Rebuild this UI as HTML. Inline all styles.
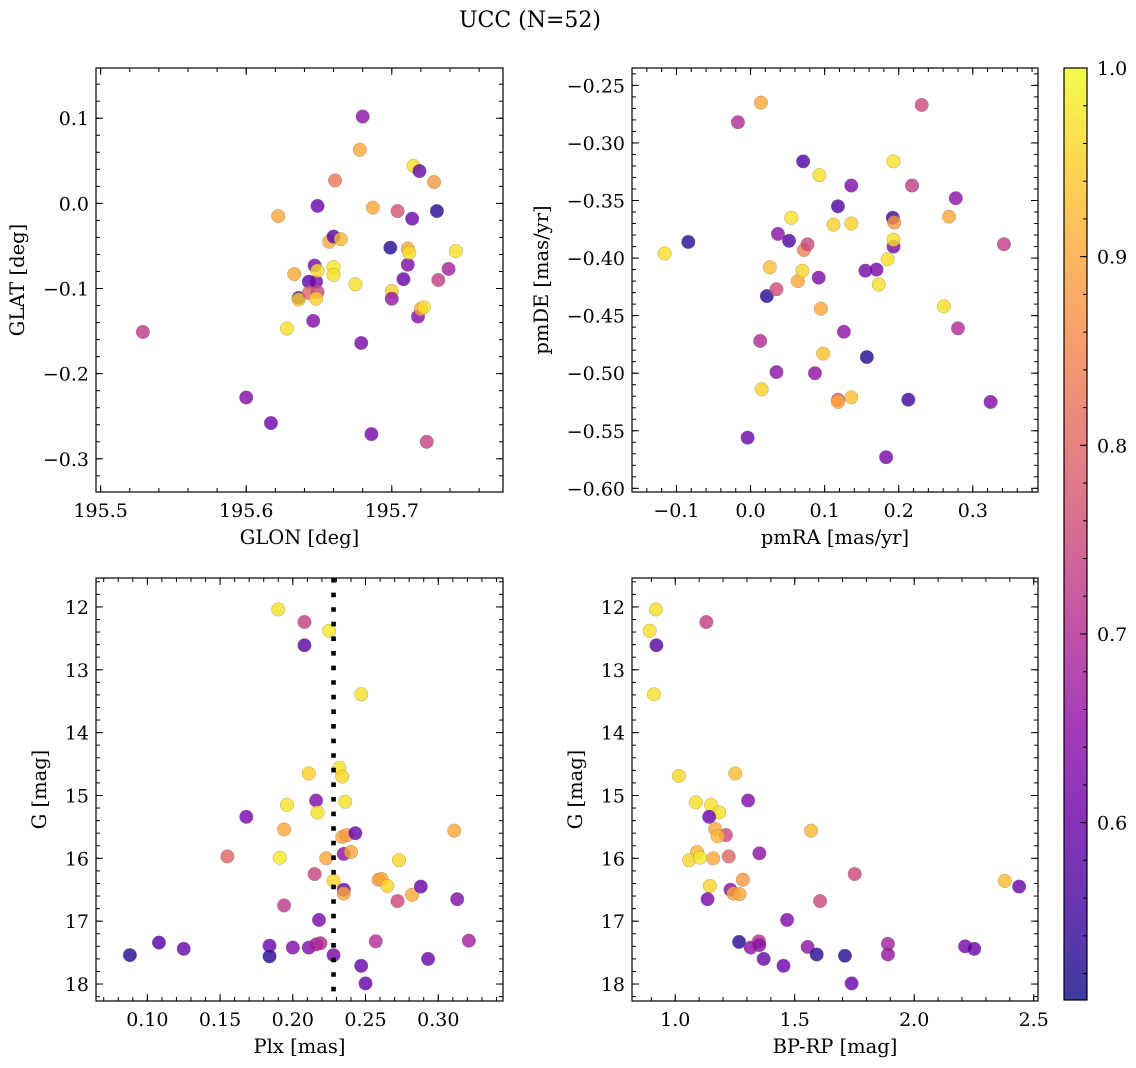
<!DOCTYPE html>
<html><head><meta charset="utf-8">
<style>
html,body{margin:0;padding:0;background:#fff;}
svg{display:block;font-family:"DejaVu Serif","Liberation Serif",serif;}
</style></head>
<body>
<svg id="fig" width="1136" height="1068" viewBox="0 0 1136 1068" xmlns="http://www.w3.org/2000/svg">
<rect x="0" y="0" width="1136" height="1068" fill="#fff"/>
<text x="530" y="27" font-size="22" text-anchor="middle">UCC (N=52)</text>
</svg>
<script>
// ---------- Panel 1: GLON vs GLAT ----------
const p1Lon=[195.529,195.600,195.617,195.622,195.628,195.633,195.636,195.636,195.643,195.643,195.646,195.647,195.648,195.649,195.649,195.648,195.649,195.657,195.660,195.660,195.660,195.661,195.665,195.675,195.678,195.679,195.680,195.686,195.687,195.699,195.700,195.700,195.704,195.708,195.711,195.711,195.712,195.714,195.715,195.719,195.718,195.720,195.722,195.724,195.729,195.731,195.732,195.739,195.744];
const p1Lat=[-0.151,-0.228,-0.258,-0.015,-0.147,-0.083,-0.111,-0.113,-0.092,-0.105,-0.138,-0.073,-0.092,-0.104,-0.079,-0.112,-0.003,-0.045,-0.039,-0.075,-0.084,0.027,-0.042,-0.095,0.063,-0.164,0.102,-0.271,-0.005,-0.052,-0.103,-0.112,-0.009,-0.089,-0.072,-0.053,-0.058,-0.018,0.044,0.038,-0.133,-0.124,-0.122,-0.280,0.025,-0.009,-0.090,-0.077,-0.056];
const p1Prob=[0.72,0.63,0.6,0.9,0.97,0.9,0.55,0.95,0.58,0.8,0.63,0.62,0.62,0.75,0.97,0.95,0.6,0.9,0.57,0.98,0.97,0.83,0.92,0.97,0.9,0.62,0.65,0.62,0.9,0.53,0.95,0.66,0.77,0.6,0.63,0.9,0.97,0.6,0.97,0.6,0.63,0.9,0.97,0.74,0.88,0.53,0.73,0.68,0.97];
const p1XTicks=[195.5,195.6,195.7];
const p1XTickLabels=["195.5","195.6","195.7"];
const p1YTicks=[0.1,0.0,-0.1,-0.2,-0.3];
const p1YTickLabels=["0.1","0.0","\u22120.1","\u22120.2","\u22120.3"];

// ---------- Panel 2: pmRA vs pmDE ----------
const p2PmRA=[-0.116,-0.084,-0.017,0.014,-0.004,0.013,0.015,0.022,0.026,0.035,0.035,0.037,0.052,0.055,0.064,0.071,0.070,0.072,0.077,0.087,0.092,0.093,0.095,0.098,0.112,0.118,0.118,0.118,0.126,0.136,0.136,0.136,0.157,0.155,0.170,0.173,0.185,0.183,0.192,0.194,0.193,0.193,0.193,0.213,0.218,0.231,0.261,0.268,0.277,0.280,0.324,0.342];
const p2PmDE=[-0.396,-0.386,-0.282,-0.265,-0.556,-0.472,-0.514,-0.433,-0.408,-0.427,-0.499,-0.379,-0.385,-0.365,-0.420,-0.316,-0.411,-0.393,-0.388,-0.500,-0.417,-0.328,-0.444,-0.483,-0.371,-0.355,-0.523,-0.525,-0.464,-0.521,-0.337,-0.370,-0.486,-0.411,-0.410,-0.423,-0.401,-0.573,-0.365,-0.369,-0.390,-0.316,-0.384,-0.523,-0.337,-0.267,-0.442,-0.364,-0.348,-0.461,-0.525,-0.388];
const p2Prob=[0.97,0.53,0.7,0.9,0.6,0.7,0.95,0.53,0.93,0.76,0.65,0.65,0.57,0.97,0.9,0.57,0.96,0.85,0.75,0.65,0.63,0.97,0.9,0.93,0.95,0.57,0.8,0.9,0.65,0.93,0.63,0.95,0.53,0.62,0.62,0.97,0.97,0.62,0.55,0.88,0.62,0.97,0.97,0.55,0.73,0.75,0.97,0.9,0.65,0.7,0.63,0.73];
const p2XTicks=[-0.1,0.0,0.1,0.2,0.3];
const p2XTickLabels=["\u22120.1","0.0","0.1","0.2","0.3"];
const p2YTicks=[-0.25,-0.30,-0.35,-0.40,-0.45,-0.50,-0.55,-0.60];
const p2YTickLabels=["\u22120.25","\u22120.30","\u22120.35","\u22120.40","\u22120.45","\u22120.50","\u22120.55","\u22120.60"];

// ---------- Panel 3: Plx vs G ----------
const p3Plx=[0.088,0.108,0.125,0.155,0.168,0.184,0.184,0.190,0.191,0.194,0.194,0.196,0.200,0.208,0.208,0.211,0.211,0.215,0.216,0.216,0.217,0.218,0.219,0.223,0.225,0.228,0.228,0.232,0.234,0.234,0.235,0.235,0.235,0.236,0.237,0.240,0.243,0.247,0.247,0.250,0.257,0.259,0.261,0.265,0.272,0.273,0.282,0.288,0.293,0.311,0.313,0.321];
const p3G=[17.54,17.34,17.44,15.97,15.34,17.39,17.56,12.04,15.99,15.54,16.75,15.15,17.42,12.24,12.61,17.42,14.65,16.25,15.08,17.37,15.27,16.98,17.35,16.0,12.38,16.36,17.54,14.56,14.70,15.66,15.93,16.50,16.56,15.10,15.63,15.90,15.60,13.39,17.71,17.99,17.32,16.34,16.33,16.44,16.68,16.03,16.58,16.45,17.60,15.56,16.65,17.31];
const p3Prob=[0.53,0.57,0.6,0.8,0.62,0.6,0.53,0.97,0.98,0.9,0.72,0.97,0.63,0.73,0.58,0.63,0.95,0.74,0.63,0.68,0.97,0.62,0.7,0.9,0.98,0.96,0.62,0.97,0.96,0.9,0.65,0.6,0.9,0.97,0.88,0.9,0.6,0.97,0.6,0.6,0.7,0.88,0.9,0.96,0.75,0.96,0.9,0.6,0.6,0.9,0.63,0.68];
const p3PlxLine=[0.228];
const p3XTicks=[0.10,0.15,0.20,0.25,0.30];
const p3XTickLabels=["0.10","0.15","0.20","0.25","0.30"];
const gTicks=[12,13,14,15,16,17,18];
const gTickLabels=["12","13","14","15","16","17","18"];

// ---------- Panel 4: BP-RP vs G ----------
const p4BpRp=[0.919,0.893,0.921,0.911,1.130,1.015,1.251,1.305,1.086,1.150,1.184,1.142,1.167,1.212,1.178,1.568,1.091,1.058,1.104,1.159,1.224,1.352,1.751,1.283,1.145,2.379,2.439,1.231,1.244,1.269,1.135,1.606,1.468,1.267,1.350,1.352,1.316,1.370,1.453,1.554,1.592,1.710,1.738,1.890,1.890,2.213,2.251];
const p4G=[12.04,12.38,12.61,13.39,12.24,14.69,14.65,15.08,15.11,15.15,15.27,15.34,15.53,15.63,15.65,15.56,15.90,16.03,15.99,16.0,15.97,15.92,16.25,16.34,16.44,16.36,16.45,16.5,16.56,16.57,16.65,16.68,16.98,17.33,17.32,17.38,17.42,17.60,17.71,17.41,17.53,17.55,17.99,17.36,17.53,17.40,17.44];
const p4Prob=[0.97,0.97,0.58,0.97,0.73,0.96,0.93,0.63,0.97,0.97,0.97,0.6,0.9,0.75,0.92,0.92,0.92,0.96,0.98,0.9,0.8,0.65,0.75,0.88,0.96,0.93,0.6,0.65,0.9,0.9,0.62,0.75,0.63,0.53,0.7,0.65,0.65,0.6,0.6,0.65,0.53,0.53,0.6,0.68,0.66,0.62,0.6];
const p4XTicks=[1.0,1.5,2.0,2.5];
const p4XTickLabels=["1.0","1.5","2.0","2.5"];

// ---------- Colorbar ----------
const cbTicks=[1.0,0.9,0.8,0.7,0.6];
const cbTickLabels=["1.0","0.9","0.8","0.7","0.6"];
const cbMin=0.506, cbMax=1.0;

const NS="http://www.w3.org/2000/svg";
const svg=document.getElementById('fig');
const TICKFS=19, LABFS=19.5;
function mk(tag,attrs,parent){const e=document.createElementNS(NS,tag);for(const k in attrs)e.setAttribute(k,attrs[k]);(parent||svg).appendChild(e);return e;}

const plasma=[[13,8,135],[65,4,157],[106,0,168],[143,13,164],[177,42,144],[204,71,120],[225,100,98],[242,132,75],[252,166,54],[252,206,37],[240,249,33]];
function cmap(t){t=Math.max(0,Math.min(1,t));const f=t*10;const i=Math.min(9,Math.floor(f));const r=f-i;const a=plasma[i],b=plasma[i+1];
 return 'rgb('+a.map((v,k)=>Math.round(v+(b[k]-v)*r)).join(',')+')';}
function cnorm(p){return (p-cbMin)/(cbMax-cbMin);}

function panel(opt){
 const g=mk('g',{});
 
 
 const L=opt.box[0],T=opt.box[1],R=opt.box[2],B=opt.box[3];
 const sx=v=>L+(v-opt.xr[0])/(opt.xr[1]-opt.xr[0])*(R-L);
 const sy=opt.yinv? (v=>T+(v-opt.yr[0])/(opt.yr[1]-opt.yr[0])*(B-T)) : (v=>B-(v-opt.yr[0])/(opt.yr[1]-opt.yr[0])*(B-T));
 const clip=mk('clipPath',{id:opt.name+'-clip'},g);
 mk('rect',{x:L,y:T,width:R-L,height:B-T},clip);
 const pts=mk('g',{'clip-path':'url(#'+opt.name+'-clip)'},g);
 
 
 for(let i=0;i<opt.xs.length;i++){
   const c=mk('circle',{cx:sx(opt.xs[i]),cy:sy(opt.ys[i]),r:6.8,fill:cmap(cnorm(opt.ps[i])),'fill-opacity':0.8,stroke:'#777','stroke-opacity':0.6,'stroke-width':0.5},pts);
   
   
 }
 if(opt.vline){opt.vline.forEach(v=>{
   const ln=mk('line',{x1:sx(v),x2:sx(v),y1:T,y2:B,stroke:'#000','stroke-width':4.6,'stroke-dasharray':'4.6 10'},pts);
   
   
 });}
 const tg=mk('g',{stroke:'#000','stroke-width':1},g);
 const eps=1e-9;
 for(let v=Math.ceil(opt.xr[0]/opt.xminor-eps)*opt.xminor; v<=opt.xr[1]+eps; v+=opt.xminor){
   const x=sx(v); mk('line',{x1:x,x2:x,y1:B,y2:B-4},tg); mk('line',{x1:x,x2:x,y1:T,y2:T+4},tg);}
 const ylo=Math.min(...opt.yr),yhi=Math.max(...opt.yr);
 for(let v=Math.ceil(ylo/opt.yminor-eps)*opt.yminor; v<=yhi+eps; v+=opt.yminor){
   const y=sy(v); mk('line',{x1:L,x2:L+4,y1:y,y2:y},tg); mk('line',{x1:R,x2:R-4,y1:y,y2:y},tg);}
 opt.xt.forEach((v,i)=>{const x=sx(v);
   mk('line',{x1:x,x2:x,y1:B,y2:B-7},tg); mk('line',{x1:x,x2:x,y1:T,y2:T+7},tg);
   const t=mk('text',{x:x,y:B+25,'font-size':TICKFS,'text-anchor':'middle'},g); t.textContent=opt.xtl[i];
   
   });
 opt.yt.forEach((v,i)=>{const y=sy(v);
   mk('line',{x1:L,x2:L+7,y1:y,y2:y},tg); mk('line',{x1:R,x2:R-7,y1:y,y2:y},tg);
   const t=mk('text',{x:L-7,y:y+7,'font-size':TICKFS,'text-anchor':'end'},g); t.textContent=opt.ytl[i];
   
   });
 const fr=mk('rect',{x:L,y:T,width:R-L,height:B-T,fill:'none',stroke:'#000','stroke-width':1.2},g);
 
 
 const xl=mk('text',{x:(L+R)/2,y:B+52,'font-size':LABFS,'text-anchor':'middle'},g); xl.textContent=opt.xlabel;
 
 
 const yx=opt.ylabelX, yy=(T+B)/2;
 const yl=mk('text',{x:yx,y:yy,'font-size':LABFS,'text-anchor':'middle',transform:'rotate(-90 '+yx+' '+yy+')'},g); yl.textContent=opt.ylabel;
 
 
}

panel({name:'glon-glat-panel',box:[96,68,503,492],xr:[195.4968,195.7764],yr:[-0.339,0.159],xs:p1Lon,ys:p1Lat,ps:p1Prob,
 xt:p1XTicks,xtl:p1XTickLabels,yt:p1YTicks,ytl:p1YTickLabels,xminor:0.02,yminor:0.02,xlabel:'GLON [deg]',ylabel:'GLAT [deg]',ylabelX:24});
panel({name:'pm-panel',box:[632,68,1038,492],xr:[-0.160,0.388],yr:[-0.6032,-0.2349],xs:p2PmRA,ys:p2PmDE,ps:p2Prob,
 xt:p2XTicks,xtl:p2XTickLabels,yt:p2YTicks,ytl:p2YTickLabels,xminor:0.02,yminor:0.01,xlabel:'pmRA [mas/yr]',ylabel:'pmDE [mas/yr]',ylabelX:548});
panel({name:'plx-g-panel',box:[96,578,503,1001],xr:[0.0647,0.3445],yr:[11.54,18.27],yinv:true,xs:p3Plx,ys:p3G,ps:p3Prob,vline:p3PlxLine,
 xt:p3XTicks,xtl:p3XTickLabels,yt:gTicks,ytl:gTickLabels,xminor:0.01,yminor:0.2,xlabel:'Plx [mas]',ylabel:'G [mag]',ylabelX:46});
panel({name:'cmd-panel',box:[632,578,1038,1001],xr:[0.819,2.518],yr:[11.54,18.27],yinv:true,xs:p4BpRp,ys:p4G,ps:p4Prob,
 xt:p4XTicks,xtl:p4XTickLabels,yt:gTicks,ytl:gTickLabels,xminor:0.1,yminor:0.2,xlabel:'BP-RP [mag]',ylabel:'G [mag]',ylabelX:582});

(function(){
 const L=1064,R=1087,T=68,B=1000;
 const g=mk('g',{});
 
 
 const defs=mk('defs',{},g);
 const lg=mk('linearGradient',{id:'cbgrad',x1:0,y1:1,x2:0,y2:0},defs);
 for(let i=0;i<=20;i++){const t=i/20;mk('stop',{offset:t,'stop-color':cmap(t),'stop-opacity':0.8},lg);}
 mk('rect',{x:L,y:T,width:R-L,height:B-T,fill:'url(#cbgrad)'},g);
 const sy=v=>B-(v-cbMin)/(cbMax-cbMin)*(B-T);
 const tg=mk('g',{stroke:'#000','stroke-width':1},g);
 for(let v=0.52;v<=1.0001;v+=0.02){mk('line',{x1:R,x2:R-4,y1:sy(v),y2:sy(v)},tg);}
 cbTicks.forEach((v,i)=>{const y=sy(v);mk('line',{x1:R,x2:R-7,y1:y,y2:y},tg);
  const t=mk('text',{x:R+10,y:y+7,'font-size':TICKFS},g);t.textContent=cbTickLabels[i];
  
  });
 mk('rect',{x:L,y:T,width:R-L,height:B-T,fill:'none',stroke:'#000','stroke-width':1.2},g);
})();
</script>
</body></html>
